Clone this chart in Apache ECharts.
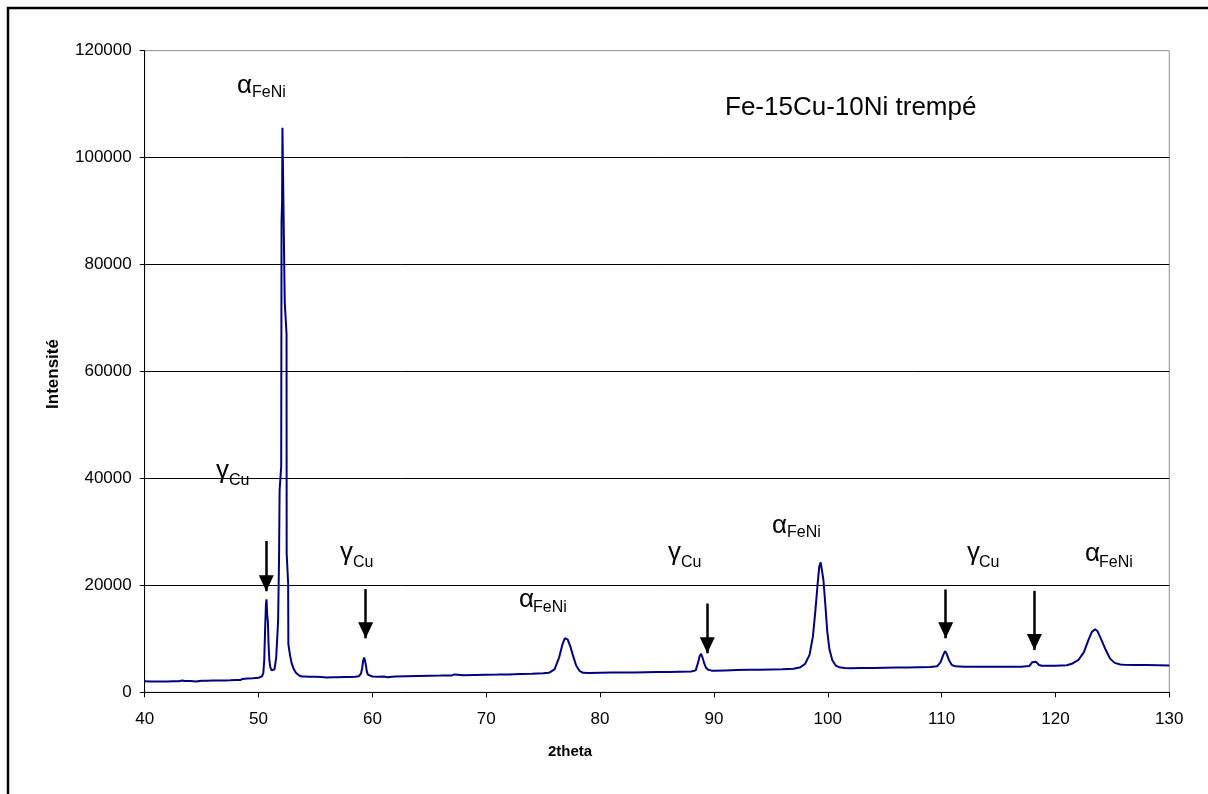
<!DOCTYPE html>
<html><head><meta charset="utf-8">
<script src="https://cdn.jsdelivr.net/npm/echarts@6/dist/echarts.min.js"></script>
<style>html,body{margin:0;padding:0;background:#fff}#c{width:1208px;height:794px}</style>
</head><body><div id="c"></div>
<script>
// 2theta (degrees)
const twoTheta = [
40.0,40.5,41.0,41.5,42.0,42.5,43.0,43.3,43.5,44.0,44.5,45.0,45.5,46.0,46.5,47.0,47.5,48.0,48.4,48.6,49.0,49.5,
50.0,50.3,50.42,50.5,50.58,50.65,50.7,50.76,50.82,50.88,50.95,51.03,51.15,51.25,51.4,51.55,51.65,51.72,51.8,51.85,
51.99,52.02,52.07,52.1,52.22,52.3,52.46,52.47,52.6,52.62,52.76,52.9,53.1,53.3,53.6,53.8,54.0,54.5,55.0,55.5,56.0,
56.5,57.0,57.5,58.0,58.5,58.8,59.0,59.1,59.2,59.28,59.35,59.42,59.5,59.6,59.75,60.0,60.5,61.0,61.3,62.0,63.0,64.0,
65.0,66.0,67.0,67.2,68.0,69.0,70.0,71.0,72.0,73.0,74.0,74.5,75.0,75.5,76.0,76.4,76.7,76.9,77.0,77.15,77.4,77.6,
77.9,78.2,78.5,79.0,80.0,81.0,82.0,83.0,84.0,85.0,86.0,87.0,88.0,88.4,88.6,88.75,88.87,89.0,89.15,89.3,89.5,89.8,
90.0,91.0,92.0,93.0,94.0,95.0,96.0,97.0,97.6,98.0,98.4,98.7,98.9,99.1,99.25,99.38,99.5,99.62,99.8,99.95,100.15,
100.4,100.7,101.0,101.5,102.0,103.0,104.0,105.0,106.0,107.0,108.0,109.0,109.6,109.9,110.15,110.3,110.45,110.65,
110.9,111.2,112.0,113.0,114.0,115.0,116.0,117.0,117.7,117.95,118.12,118.3,118.55,118.8,119.5,120.0,121.0,121.5,
122.0,122.5,122.9,123.2,123.48,123.7,124.0,124.4,124.8,125.2,125.7,126.0,127.0,128.0,129.0,130.0
];
// Intensité (counts)
const intensity = [
2050,2000,2030,2010,2040,2060,2080,2200,2100,2120,2000,2150,2170,2190,2200,2230,2250,2280,2300,2500,2560,2620,
2700,3000,3600,6000,12000,16500,17400,14500,13300,9000,6000,4700,4100,4000,4300,6500,10500,13500,25000,37800,
42200,88000,92000,105600,105600,73000,67000,26000,20400,9000,7000,5500,4300,3600,3100,2950,2950,2900,2900,2880,2750,
2800,2800,2850,2850,2900,3000,3500,4500,6000,6500,6200,5200,4000,3300,3000,2950,2900,2950,2800,2950,3000,3050,
3100,3120,3150,3350,3200,3250,3300,3320,3350,3400,3450,3500,3550,3650,4300,6500,9000,10100,10300,9900,8500,7000,
5000,4000,3650,3600,3650,3680,3700,3720,3750,3780,3800,3850,3900,4100,5500,6800,7200,6500,5400,4600,4200,4050,
4050,4100,4150,4200,4200,4250,4300,4400,4700,5300,7000,10500,15000,20000,23500,24300,24000,21000,16000,11500,8000,
6000,5000,4700,4550,4500,4550,4550,4600,4650,4650,4700,4750,4850,5600,7000,7700,7200,6000,
5100,4850,4800,4800,4780,4800,4800,4800,4900,5600,5900,5700,5100,4950,4950,4950,5050,5400,
6000,7500,9800,11300,11780,11400,10000,8000,6300,5500,5200,5150,5100,5100,5050,5000
];
// Arrows (data space): x, shaft top, tip
const arrowX = [50.68, 59.41, 89.42, 110.36, 118.15];
const arrowTop = [28300, 19300, 16600, 19240, 18980];
const arrowTip = [18900, 10100, 7300, 10100, 7900];
// Peak labels
const peakMain = ['α','γ','γ','α','γ','α','γ','α'];
const peakSub = ['FeNi','Cu','Cu','FeNi','Cu','FeNi','Cu','FeNi'];
const titleText = 'Fe-15Cu-10Ni trempé';
const xName = '2theta';
const yName = 'Intensité';

// label layout (pixels): main glyph left, baseline; sub left, baseline
const labelPos = [
  [237, 95, 252, 98],
  [216, 480, 229, 486],
  [340, 562, 353, 568],
  [519, 609, 533, 613],
  [668, 562, 681, 568],
  [772, 535, 787, 538],
  [967, 562, 979, 568],
  [1085, 563, 1099, 568]
];

const FONT = '"Liberation Sans", Arial, sans-serif';
const chart = echarts.init(document.getElementById('c'), null, {renderer: 'canvas'});
const seriesData = twoTheta.map((t, i) => [t, intensity[i]]);
const arrowData = arrowX.map((x, i) => [{coord: [x, arrowTop[i]]}, {coord: [x, arrowTip[i]]}]);

const graphics = [
  {type: 'rect', shape: {x: 8, y: 8, width: 1220, height: 820}, style: {fill: 'none', stroke: '#000', lineWidth: 2.5}, z: 100},
  {type: 'text', x: 725, y: 116.7 - 0.35 * 26, style: {text: titleText, font: '26px ' + FONT, fill: '#000', textVerticalAlign: 'middle'}},
  {type: 'text', x: 570, y: 752, style: {text: xName, font: 'bold 15px ' + FONT, fill: '#000', textAlign: 'center', textVerticalAlign: 'middle'}},
  {type: 'text', x: 53, y: 374, rotation: Math.PI / 2, style: {text: yName, font: 'bold 17px ' + FONT, fill: '#000', textAlign: 'center', textVerticalAlign: 'middle'}}
];
labelPos.forEach((p, i) => {
  graphics.push({type: 'text', x: p[0], y: p[1] - 0.35 * 26, style: {text: peakMain[i], font: '26px ' + FONT, fill: '#000', textVerticalAlign: 'middle'}});
  graphics.push({type: 'text', x: p[2], y: p[3] - 0.35 * 16, style: {text: peakSub[i], font: '16px ' + FONT, fill: '#000', textVerticalAlign: 'middle'}});
});

chart.setOption({
  animation: false,
  backgroundColor: '#fff',
  grid: {left: 144.7, right: 38.7, top: 50.7, bottom: 101.7, show: true, borderColor: '#8c8c8c', borderWidth: 1, backgroundColor: 'transparent'},
  xAxis: {
    type: 'value', min: 40, max: 130, interval: 10,
    axisLine: {show: true, onZero: false, lineStyle: {color: '#000', width: 1}},
    axisTick: {show: true, inside: false, length: 5, lineStyle: {color: '#000'}},
    axisLabel: {color: '#000', fontSize: 17, fontFamily: FONT, margin: 19},
    splitLine: {show: false}
  },
  yAxis: {
    type: 'value', min: 0, max: 120000, interval: 20000,
    axisLine: {show: true, lineStyle: {color: '#000', width: 1}},
    axisTick: {show: true, inside: false, length: 5, lineStyle: {color: '#000'}},
    axisLabel: {color: '#000', fontSize: 17, fontFamily: FONT, margin: 13, formatter: v => String(v)},
    splitLine: {show: true, showMinLine: false, showMaxLine: false, lineStyle: {color: '#000', width: 1}}
  },
  series: [{
    type: 'line', data: seriesData, showSymbol: false, symbol: 'none',
    lineStyle: {color: '#000080', width: 2}, z: 3,
    markLine: {
      silent: true, animation: false,
      symbol: ['none', 'triangle'], symbolSize: [15, 16], symbolOffset: [[0, 0], [0, 8]],
      lineStyle: {color: '#000', width: 2.5, type: 'solid'},
      label: {show: false},
      data: arrowData
    }
  }],
  graphic: graphics
});
</script>
</body></html>
